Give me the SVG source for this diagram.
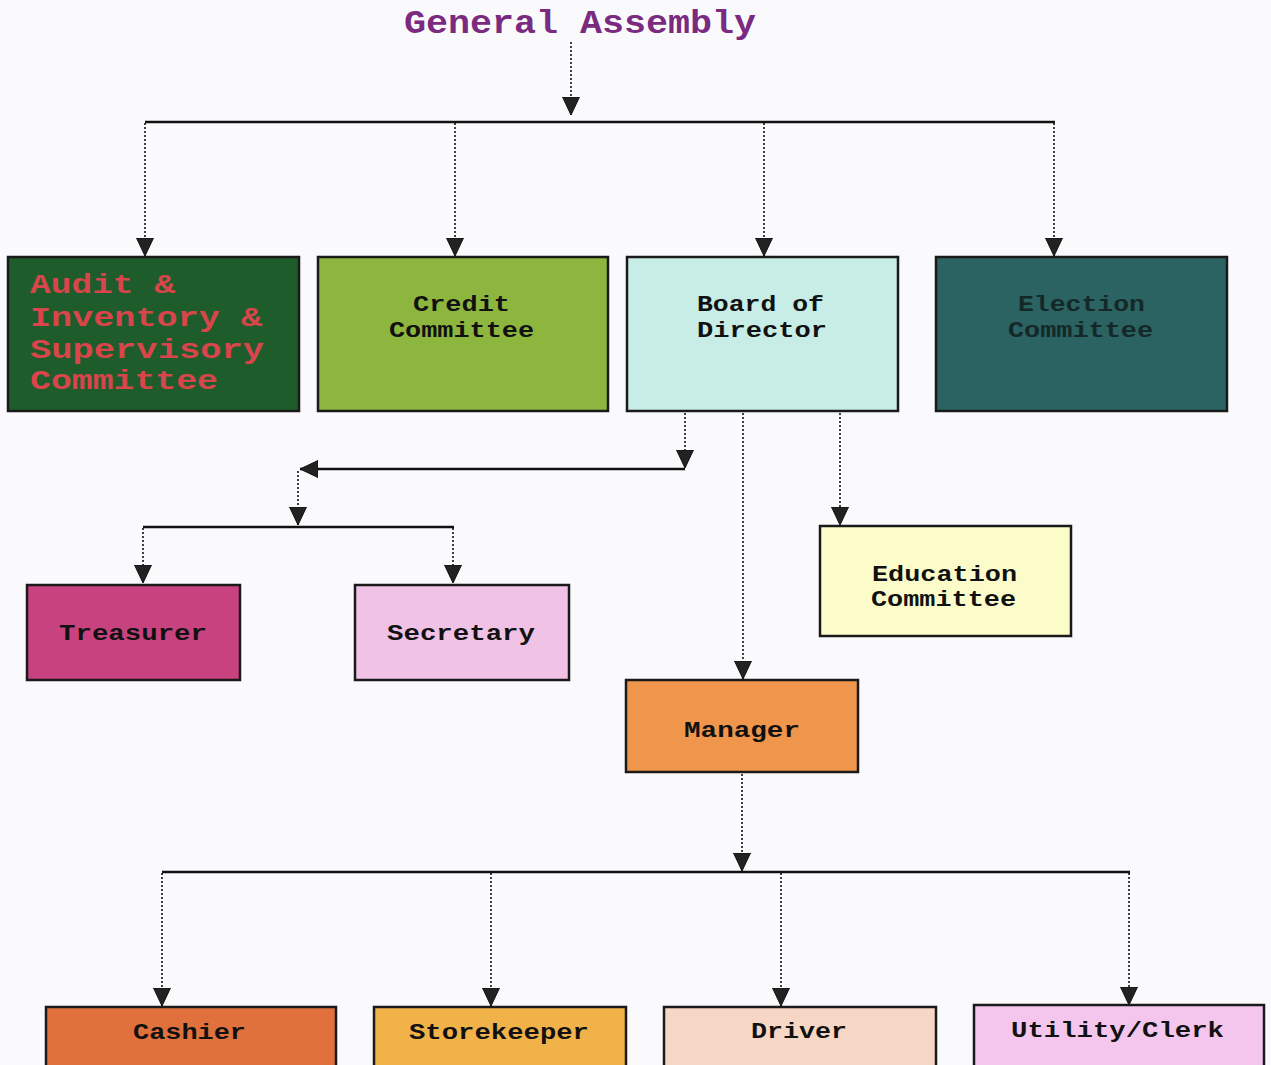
<svg xmlns="http://www.w3.org/2000/svg" width="1271" height="1065" viewBox="0 0 1271 1065">
<style>
.box{stroke:#1a1a1a;stroke-width:2.5}
.t{font-family:"Liberation Mono","DejaVu Sans Mono",monospace;font-weight:bold;font-size:22px;fill:#111}
.h{stroke:#111;stroke-width:2.5;fill:none}
.d{stroke:#111;stroke-width:1.6;stroke-dasharray:2 2;fill:none}
</style>
<defs>
<marker id="a" markerUnits="userSpaceOnUse" markerWidth="20" markerHeight="20" viewBox="0 0 20 20" refX="18" refY="10" orient="auto">
<path d="M0,1.5 L18,10 L0,18.5 Z" fill="#222" stroke="#111" stroke-width="1"/>
</marker>
</defs>
<rect width="1271" height="1065" fill="#fafafc"/>
<g id="general-assembly"><text x="580" y="33" text-anchor="middle" font-family="Liberation Mono, DejaVu Sans Mono, monospace" font-weight="bold" font-size="33" fill="#7a2a80" textLength="352" lengthAdjust="spacingAndGlyphs">General Assembly</text></g>
<g id="connectors">
<path class="d" d="M571,42 V115" marker-end="url(#a)"/>
<path class="h" d="M145,122 H1055"/>
<path class="d" d="M145,123 V256" marker-end="url(#a)"/>
<path class="d" d="M455,123 V256" marker-end="url(#a)"/>
<path class="d" d="M764,123 V256" marker-end="url(#a)"/>
<path class="d" d="M1054,123 V256" marker-end="url(#a)"/>
<path class="d" d="M685,413 V468" marker-end="url(#a)"/>
<path class="h" d="M685,469 H300" marker-end="url(#a)"/>
<path class="d" d="M298,471 V525" marker-end="url(#a)"/>
<path class="h" d="M143,527 H454"/>
<path class="d" d="M143,528 V583" marker-end="url(#a)"/>
<path class="d" d="M453,528 V583" marker-end="url(#a)"/>
<path class="d" d="M743,413 V679" marker-end="url(#a)"/>
<path class="d" d="M840,413 V525" marker-end="url(#a)"/>
<path class="d" d="M742,774 V871" marker-end="url(#a)"/>
<path class="h" d="M162,872 H1130"/>
<path class="d" d="M162,873 V1006" marker-end="url(#a)"/>
<path class="d" d="M491,873 V1006" marker-end="url(#a)"/>
<path class="d" d="M781,873 V1006" marker-end="url(#a)"/>
<path class="d" d="M1129,873 V1005" marker-end="url(#a)"/>
</g>
<g id="audit"><rect class="box" x="8" y="257" width="291" height="154" fill="#1f5c2c"/>
<text class="t" style="fill:#d8454a;font-size:27px"><tspan x="30" y="293" textLength="145" lengthAdjust="spacingAndGlyphs">Audit &amp;</tspan><tspan x="30" y="326" textLength="232" lengthAdjust="spacingAndGlyphs">Inventory &amp;</tspan><tspan x="30" y="358" textLength="234" lengthAdjust="spacingAndGlyphs">Supervisory</tspan><tspan x="30" y="389" textLength="188" lengthAdjust="spacingAndGlyphs">Committee</tspan></text></g>
<g id="credit"><rect class="box" x="318" y="257" width="290" height="154" fill="#8db63e"/>
<text class="t"><tspan x="413" y="311" textLength="97" lengthAdjust="spacingAndGlyphs">Credit</tspan><tspan x="389" y="337" textLength="145" lengthAdjust="spacingAndGlyphs">Committee</tspan></text></g>
<g id="board"><rect class="box" x="627" y="257" width="271" height="154" fill="#c8ece6"/>
<text class="t"><tspan x="697" y="311" textLength="127" lengthAdjust="spacingAndGlyphs">Board of</tspan><tspan x="697" y="337" textLength="130" lengthAdjust="spacingAndGlyphs">Director</tspan></text></g>
<g id="election"><rect class="box" x="936" y="257" width="291" height="154" fill="#2b6262"/>
<text class="t" style="fill:#142828"><tspan x="1018" y="311" textLength="127" lengthAdjust="spacingAndGlyphs">Election</tspan><tspan x="1008" y="337" textLength="145" lengthAdjust="spacingAndGlyphs">Committee</tspan></text></g>
<g id="treasurer"><rect class="box" x="27" y="585" width="213" height="95" fill="#c8427f"/>
<text class="t" x="59" y="640" textLength="148" lengthAdjust="spacingAndGlyphs">Treasurer</text></g>
<g id="secretary"><rect class="box" x="355" y="585" width="214" height="95" fill="#f0c2e6"/>
<text class="t" x="387" y="640" textLength="148" lengthAdjust="spacingAndGlyphs">Secretary</text></g>
<g id="education"><rect class="box" x="820" y="526" width="251" height="110" fill="#fcfcca"/>
<text class="t"><tspan x="872" y="581" textLength="145" lengthAdjust="spacingAndGlyphs">Education</tspan><tspan x="871" y="606" textLength="145" lengthAdjust="spacingAndGlyphs">Committee</tspan></text></g>
<g id="manager"><rect class="box" x="626" y="680" width="232" height="92" fill="#f0964c"/>
<text class="t" x="684" y="737" textLength="116" lengthAdjust="spacingAndGlyphs">Manager</text></g>
<g id="cashier"><rect class="box" x="46" y="1007" width="290" height="62" fill="#e0703c"/>
<text class="t" x="133" y="1039" textLength="113" lengthAdjust="spacingAndGlyphs">Cashier</text></g>
<g id="storekeeper"><rect class="box" x="374" y="1007" width="252" height="62" fill="#f2b24a"/>
<text class="t" x="409" y="1039" textLength="180" lengthAdjust="spacingAndGlyphs">Storekeeper</text></g>
<g id="driver"><rect class="box" x="664" y="1007" width="272" height="62" fill="#f6d6c4"/>
<text class="t" x="751" y="1038" textLength="96" lengthAdjust="spacingAndGlyphs">Driver</text></g>
<g id="utility"><rect class="box" x="974" y="1005" width="290" height="64" fill="#f4c6ee"/>
<text class="t" x="1011" y="1037" textLength="213" lengthAdjust="spacingAndGlyphs">Utility/Clerk</text></g>
</svg>
